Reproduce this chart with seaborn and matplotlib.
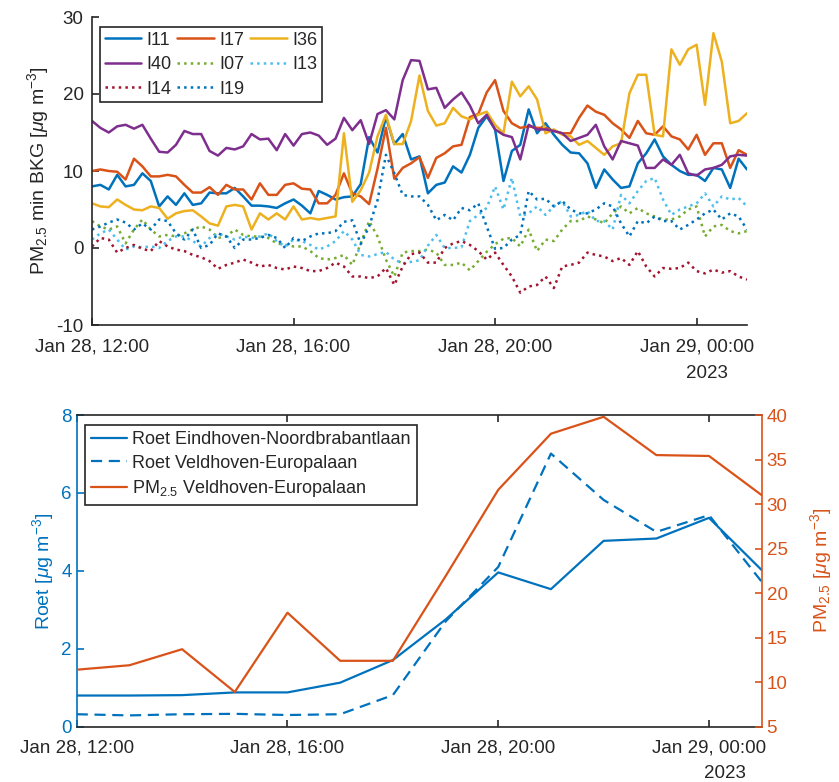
import numpy as np
import pandas as pd
import matplotlib
matplotlib.use('Agg')
import matplotlib.pyplot as plt
import matplotlib.dates as mdates
import seaborn as sns

# ---------------- data (top panel, 10-min values, PM2.5 minus background) ----------------
I11 = [8.0, 8.2, 7.6, 9.5, 8.0, 8.2, 9.7, 8.7, 5.4, 6.7,
       5.6, 7.1, 5.6, 5.8, 7.2, 7.1, 7.1, 7.8, 6.7, 5.5,
       5.5, 5.4, 5.2, 5.8, 6.3, 5.5, 4.5, 7.4, 6.9, 6.3,
       6.6, 6.7, 8.3, 14.4, 12.4, 17.0, 13.5, 14.8, 11.5, 11.9,
       7.1, 8.2, 8.5, 10.6, 9.8, 12.1, 15.6, 17.1, 15.4, 8.7,
       12.6, 13.4, 18.0, 14.9, 16.2, 14.7, 13.4, 12.4, 12.3, 11.0,
       7.8, 10.2, 8.9, 7.8, 8.0, 11.0, 12.3, 14.1, 11.9, 10.8,
       10.0, 9.5, 9.5, 8.7, 10.4, 10.2, 7.8, 11.6, 10.2]
I17 = [10.0, 10.2, 10.0, 9.9, 8.9, 11.6, 10.6, 9.3, 9.3, 9.5,
       9.3, 8.2, 7.2, 7.2, 7.9, 6.9, 8.2, 7.6, 7.6, 6.3,
       8.4, 6.9, 6.9, 8.2, 8.4, 7.7, 7.6, 5.8, 5.8, 6.9,
       9.7, 7.1, 6.7, 5.7, 10.3, 15.6, 9.0, 10.4, 11.0, 11.8,
       9.1, 11.7, 12.3, 13.2, 13.4, 17.0, 17.4, 20.2, 21.8, 17.8,
       16.2, 15.6, 15.8, 15.6, 15.6, 15.2, 14.9, 14.9, 16.9, 18.5,
       17.7, 17.3, 16.2, 15.4, 14.3, 16.5, 14.9, 14.7, 15.8, 14.5,
       14.1, 12.8, 14.7, 12.1, 13.6, 13.6, 10.4, 12.7, 12.1]
I36 = [5.8, 5.4, 5.3, 6.3, 5.6, 5.0, 4.9, 5.4, 5.2, 3.8,
       4.5, 4.8, 4.9, 4.1, 3.2, 2.9, 5.4, 5.6, 5.4, 2.4,
       4.5, 3.7, 4.5, 3.7, 5.4, 3.7, 3.9, 3.7, 3.9, 4.1,
       14.9, 6.0, 7.5, 9.8, 14.5, 17.3, 13.5, 13.5, 16.5, 22.4,
       17.8, 15.9, 16.2, 18.2, 17.1, 16.7, 17.3, 17.7, 16.0, 14.9,
       21.6, 19.7, 21.0, 19.3, 14.9, 15.4, 14.7, 14.5, 13.4, 13.9,
       13.0, 12.1, 13.2, 13.6, 20.1, 22.5, 22.5, 14.7, 14.5, 25.8,
       23.8, 25.8, 26.4, 18.6, 27.9, 24.2, 16.2, 16.5, 17.5]
I40 = [16.5, 15.6, 15.0, 15.8, 16.0, 15.5, 16.0, 14.2, 12.5, 12.4,
       13.4, 15.2, 14.8, 14.8, 12.6, 12.0, 13.0, 12.8, 13.2, 14.8,
       14.1, 14.2, 12.7, 14.8, 13.3, 14.8, 15.0, 14.6, 13.4, 14.2,
       16.9, 15.3, 16.6, 13.5, 17.4, 17.9, 16.7, 21.8, 24.4, 24.3,
       20.6, 20.8, 18.2, 19.3, 20.2, 18.5, 16.2, 17.3, 15.4, 14.7,
       14.4, 11.5, 16.0, 15.4, 15.4, 15.2, 14.9, 13.9, 14.3, 14.7,
       16.0, 13.2, 11.5, 13.9, 13.6, 13.3, 10.4, 10.4, 11.5, 10.8,
       12.1, 9.7, 9.4, 10.2, 10.4, 10.8, 11.9, 12.1, 12.0]
I07 = [3.5, 2.8, 2.4, 2.8, 0.6, 2.4, 3.7, 2.4, 1.5, 1.7,
       1.5, 1.9, 2.4, 2.8, 2.4, 1.3, 1.5, 2.4, 1.7, 1.5,
       1.5, 1.3, 0.6, 0.4, 0.2, 0.2, -0.4, -1.3, -1.5, -1.3,
       -0.9, -2.2, 0.6, 3.5, 1.5, -1.5, -3.7, -0.6, -0.4, -0.4,
       -0.2, -0.6, -2.2, -2.2, -1.9, -2.9, -1.7, -0.5, 0.5, 1.2,
       1.3, 0.2, 2.4, -0.4, 1.1, 0.9, 2.4, 3.5, 3.5, 4.1,
       3.7, 3.2, 4.5, 5.4, 4.5, 5.2, 4.5, 4.1, 3.7, 3.7,
       4.1, 5.0, 5.4, 1.5, 2.8, 3.0, 2.2, 1.9, 2.2]
I13 = [1.1, 1.9, 2.4, 1.1, -0.2, 0.2, 0.1, 0.2, 0.0, 0.9,
       1.5, 1.5, 0.9, 0.2, 1.3, 1.9, 1.5, 1.1, 1.5, 1.3,
       1.5, 1.9, 0.9, 0.2, 1.1, 0.9, 0.4, -0.2, 0.2, 0.9,
       2.2, 1.1, -0.9, -1.1, -0.8, -0.5, -1.5, -2.0, -1.8, -1.6,
       0.3, 1.7, 0.0, 0.0, 0.1, 3.5, 4.3, 5.2, 8.0, 5.0,
       9.1, 4.1, 4.5, 5.4, 4.3, 5.4, 6.1, 4.1, 4.3, 4.8,
       3.5, 3.5, 2.4, 6.9, 5.8, 7.4, 8.7, 9.1, 6.3, 4.3,
       5.0, 5.4, 5.8, 7.1, 5.4, 6.7, 6.3, 6.5, 5.4]
I14 = [0.2, 1.3, 1.1, -0.6, 0.0, 0.4, -0.1, -0.4, 0.9, 0.2,
       -0.2, -0.4, -0.9, -1.2, -1.7, -2.7, -2.2, -1.9, -1.5, -1.9,
       -2.4, -2.2, -2.6, -2.8, -2.4, -2.6, -3.0, -3.0, -2.6, -1.9,
       -2.4, -3.7, -3.7, -3.9, -3.7, -2.6, -4.8, -2.4, -0.8, -0.6,
       -1.9, -1.9, 0.0, 0.6, 0.9, 0.4, -0.4, -1.5, -0.6, -2.2,
       -3.7, -5.8, -5.0, -4.8, -3.7, -5.2, -2.4, -2.2, -1.9, -0.6,
       -0.9, -1.1, -1.7, -1.3, -2.2, -0.4, -2.4, -3.7, -2.6, -2.7,
       -2.6, -1.9, -3.0, -3.3, -2.8, -3.2, -3.0, -3.7, -4.1]
I19 = [2.4, 2.8, 3.3, 3.7, 3.3, 2.4, 3.2, 2.4, 3.7, 3.5,
       1.9, 1.1, 2.4, 0.0, 0.4, 1.9, 1.5, 0.0, 1.1, 1.1,
       1.3, 1.7, 1.3, 0.0, 1.3, 0.9, 1.5, 1.9, 1.9, 2.2,
       3.4, 3.6, 0.5, 2.8, 6.2, 12.1, 9.7, 6.9, 6.7, 6.7,
       5.6, 3.6, 4.3, 3.6, 5.2, 4.9, 5.8, 2.8, -0.1, 0.0,
       1.1, 1.7, 7.4, 6.3, 6.4, 5.4, 6.1, 5.0, 4.5, 4.5,
       5.0, 5.8, 5.4, 3.2, 1.5, 3.5, 3.2, 4.1, 3.5, 3.5,
       2.4, 3.0, 3.7, 4.5, 5.0, 3.7, 4.5, 4.1, 2.4]

# ---------------- data (bottom panel, hourly) ----------------
roet_eindhoven = [0.80, 0.80, 0.81, 0.88, 0.88, 1.13, 1.71, 2.75, 3.96, 3.53, 4.77, 4.83, 5.36, 4.02]
roet_veldhoven = [0.32, 0.29, 0.32, 0.33, 0.30, 0.32, 0.81, 2.70, 4.10, 7.01, 5.82, 5.00, 5.43, 3.72]
pm25_veldhoven = [11.4, 11.9, 13.7, 8.9, 17.8, 12.4, 12.4, 21.9, 31.6, 37.9, 39.8, 35.5, 35.4, 31.0]

series_names = ['I11', 'I17', 'I36', 'I40', 'I07', 'I13', 'I14', 'I19']
series_vals = [I11, I17, I36, I40, I07, I13, I14, I19]

t_top = pd.date_range('2023-01-28 12:00', periods=len(I11), freq='10min')
t_bot = pd.date_range('2023-01-28 12:00', periods=len(roet_eindhoven), freq='h')

# ---------------- style ----------------
sns.set_style('ticks')
plt.rcParams['font.family'] = ['Liberation Sans', 'DejaVu Sans']
plt.rcParams['axes.unicode_minus'] = False
plt.rcParams['mathtext.fontset'] = 'custom'
plt.rcParams['mathtext.rm'] = 'Liberation Sans'
plt.rcParams['mathtext.it'] = 'Liberation Sans:italic'
plt.rcParams['mathtext.bf'] = 'Liberation Sans:bold'

BLUE = '#0072BD'
ORANGE = '#D95319'
YELLOW = '#EDB120'
PURPLE = '#7E2F8E'
GREEN = '#77AC30'
LBLUE = '#4DBEEE'
DRED = '#A2142F'
DARK = '#262626'

styles = {
    'I11': (BLUE, '-'), 'I17': (ORANGE, '-'), 'I36': (YELLOW, '-'), 'I40': (PURPLE, '-'),
    'I07': (GREEN, ':'), 'I13': (LBLUE, ':'), 'I14': (DRED, ':'), 'I19': (BLUE, ':'),
}

W, H = 839, 782
fig = plt.figure(figsize=(W / 100, H / 100), dpi=100)

TICK_FS = 13.5
LEG_FS = 13

# ---------------- top panel ----------------
ax1 = fig.add_axes([92 / W, 1 - 325 / H, 655 / W, 308 / H])
handles = {}
for name, vals in zip(series_names, series_vals):
    color, ls = styles[name]
    df = pd.DataFrame({'time': t_top, 'value': vals})
    sns.lineplot(data=df, x='time', y='value', ax=ax1, color=color,
                 linestyle=ls, linewidth=1.8, label=name, legend=False)
    handles[name] = ax1.lines[-1]

ax1.set_xlim(t_top[0], t_top[-1])
ax1.set_ylim(-10, 30)
ax1.set_yticks([-10, 0, 10, 20, 30])
ax1.xaxis.set_major_locator(mdates.HourLocator(byhour=[0, 4, 8, 12, 16, 20]))
ax1.xaxis.set_major_formatter(mdates.DateFormatter('%b %d, %H:%M'))
ax1.set_xlabel('')
ax1.set_ylabel('PM$_{2.5}$ min BKG [$\\mu$g m$^{-3}$]', fontsize=TICK_FS + 0.5, color=DARK, labelpad=4)
for s in ['top', 'right']:
    ax1.spines[s].set_visible(False)
for s in ['left', 'bottom']:
    ax1.spines[s].set_color(DARK)
    ax1.spines[s].set_linewidth(1.2)
ax1.tick_params(axis='y', direction='in', length=5, width=1.2, colors=DARK, labelsize=TICK_FS, pad=6)
ax1.tick_params(axis='x', direction='in', length=5, width=1.2, colors=DARK, labelsize=TICK_FS, pad=9.5)

order = ['I11', 'I40', 'I14', 'I17', 'I07', 'I19', 'I36', 'I13']
leg1 = ax1.legend([handles[n] for n in order], order, ncol=3, loc='upper left',
                  bbox_to_anchor=(100 / W, 1 - 27 / H), bbox_transform=fig.transFigure,
                  borderaxespad=0, fontsize=LEG_FS, frameon=True, fancybox=False,
                  edgecolor=DARK, framealpha=1, handlelength=2.0, handletextpad=0.3,
                  columnspacing=0.35, labelspacing=0.42, borderpad=0.25)
leg1.get_frame().set_linewidth(1.2)
fig.text(707 / W, 1 - 374 / H, '2023', ha='center', va='center', fontsize=TICK_FS, color=DARK)

# ---------------- bottom panel ----------------
ax2 = fig.add_axes([76.7 / W, 1 - 726.7 / H, 685 / W, 311.7 / H])
ax3 = ax2.twinx()
dfb = pd.DataFrame({'time': t_bot, 'ehv': roet_eindhoven, 'vhv': roet_veldhoven, 'pm': pm25_veldhoven})
sns.lineplot(data=dfb, x='time', y='ehv', ax=ax2, color=BLUE, linewidth=1.6,
             label='Roet Eindhoven-Noordbrabantlaan', legend=False)
h_ehv = ax2.lines[-1]
sns.lineplot(data=dfb, x='time', y='vhv', ax=ax2, color=BLUE, linewidth=1.6,
             label='Roet Veldhoven-Europalaan', legend=False)
h_vhv = ax2.lines[-1]
h_vhv.set_dashes((5, 3))
sns.lineplot(data=dfb, x='time', y='pm', ax=ax3, color=ORANGE, linewidth=1.6,
             label='PM$_{2.5}$ Veldhoven-Europalaan', legend=False)
h_pm = ax3.lines[-1]

ax2.set_xlim(t_bot[0], t_bot[-1])
ax2.set_ylim(0, 8)
ax2.set_yticks([0, 2, 4, 6, 8])
ax3.set_ylim(5, 40)
ax3.set_yticks([5, 10, 15, 20, 25, 30, 35, 40])
ax2.xaxis.set_major_locator(mdates.HourLocator(byhour=[0, 4, 8, 12, 16, 20]))
ax2.xaxis.set_major_formatter(mdates.DateFormatter('%b %d, %H:%M'))
ax2.set_xlabel('')
ax3.set_xlabel('')
ax2.set_ylabel('Roet [$\\mu$g m$^{-3}$]', fontsize=TICK_FS + 0.5, color=BLUE, labelpad=4)
ax3.set_ylabel('PM$_{2.5}$ [$\\mu$g m$^{-3}$]', fontsize=TICK_FS + 0.5, color=ORANGE, labelpad=15)

ax2.spines['right'].set_visible(False)
ax2.spines['left'].set_color(BLUE)
ax2.spines['top'].set_color(DARK)
ax2.spines['bottom'].set_color(DARK)
for s in ['left', 'top', 'bottom']:
    ax2.spines[s].set_linewidth(1.2)
for s in ['left', 'top', 'bottom']:
    ax3.spines[s].set_visible(False)
ax3.spines['right'].set_color(ORANGE)
ax3.spines['right'].set_linewidth(1.2)

ax2.tick_params(axis='x', direction='in', length=5, width=1.2, colors=DARK,
                labelsize=TICK_FS, top=True, pad=9.5)
ax2.tick_params(axis='y', direction='in', length=5, width=1.2, colors=BLUE, labelsize=TICK_FS)
ax3.tick_params(axis='y', direction='in', length=5, width=1.2, colors=ORANGE, labelsize=TICK_FS)

leg2 = ax3.legend([h_ehv, h_vhv, h_pm],
                  ['Roet Eindhoven-Noordbrabantlaan', 'Roet Veldhoven-Europalaan',
                   'PM$_{2.5}$ Veldhoven-Europalaan'],
                  loc='upper left', bbox_to_anchor=(85 / W, 1 - 425 / H),
                  bbox_transform=fig.transFigure, borderaxespad=0, fontsize=LEG_FS,
                  frameon=True, fancybox=False, edgecolor=DARK, framealpha=1,
                  handlelength=2.0, handletextpad=0.25, labelspacing=0.35, borderpad=0.35)
leg2.get_frame().set_linewidth(1.2)
fig.text(725 / W, 1 - 774 / H, '2023', ha='center', va='center', fontsize=TICK_FS, color=DARK)

fig.savefig('out.png', dpi=100)
